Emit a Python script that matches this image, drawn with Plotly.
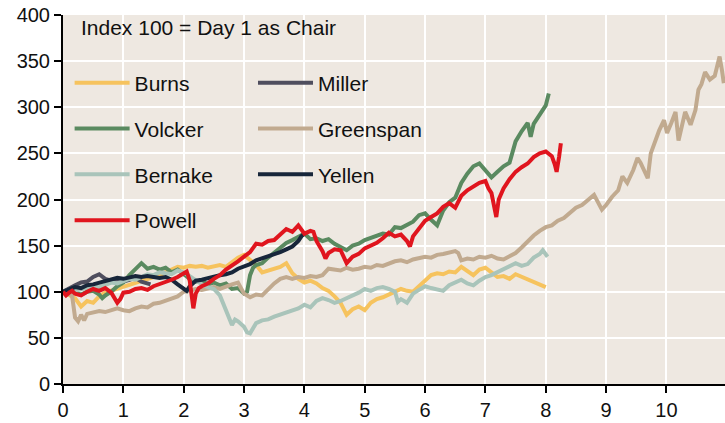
import plotly.graph_objects as go

# years since first day as chair, index level (100 = day 1)
burns_x = [0.0, 0.1, 0.2, 0.3, 0.4, 0.5, 0.6, 0.7, 0.8, 0.9, 1.0, 1.1, 1.2, 1.3, 1.4, 1.5, 1.6, 1.7, 1.8, 1.9,
           2.0, 2.1, 2.2, 2.3, 2.4, 2.5, 2.6, 2.7, 2.8, 2.9, 3.0, 3.1, 3.2, 3.3, 3.4, 3.5, 3.6, 3.7, 3.8, 3.9,
           4.0, 4.1, 4.2, 4.3, 4.4, 4.5, 4.6, 4.7, 4.8, 4.9, 5.0, 5.1, 5.2, 5.3, 5.4, 5.5, 5.6, 5.7, 5.8, 5.9,
           6.0, 6.1, 6.2, 6.3, 6.4, 6.5, 6.6, 6.7, 6.8, 6.9, 7.0, 7.1, 7.2, 7.3, 7.4, 7.5, 7.6, 7.7, 7.8, 7.9, 8.0]
burns_y = [100, 97, 93, 84, 90, 88, 95, 99, 101, 103, 105, 107, 109, 111, 113, 115, 118, 121, 124, 127,
           126, 128, 127, 128, 126, 128, 129, 127, 132, 137, 140, 135, 129, 121, 123, 125, 127, 131, 120, 114,
           110, 112, 109, 104, 101, 95, 88, 75, 81, 84, 80, 88, 92, 94, 97, 99, 103, 101, 100, 106,
           112, 118, 120, 119, 122, 121, 127, 123, 118, 124, 126, 121, 116, 117, 114, 119, 116, 113, 111, 108, 105]

miller_x = [0.0, 0.1, 0.2, 0.3, 0.4, 0.5, 0.6, 0.7, 0.8, 0.9, 1.0, 1.1, 1.2, 1.3, 1.4, 1.45]
miller_y = [100, 104, 107, 110, 111, 116, 119, 114, 112, 114, 111, 113, 115, 111, 109, 108]

volcker_x = [0.0, 0.1, 0.2, 0.3, 0.4, 0.5, 0.6, 0.65, 0.7, 0.8, 0.9, 1.0, 1.1, 1.2, 1.3, 1.4, 1.5, 1.6, 1.7, 1.8,
             1.9, 2.0, 2.1, 2.2, 2.3, 2.4, 2.5, 2.6, 2.7, 2.8, 2.9, 3.0, 3.05, 3.1, 3.15, 3.2, 3.3, 3.4, 3.5, 3.6,
             3.7, 3.8, 3.9, 4.0, 4.1, 4.2, 4.3, 4.4, 4.5, 4.6, 4.7, 4.8, 4.9, 5.0, 5.1, 5.2, 5.3, 5.4, 5.5, 5.6,
             5.7, 5.8, 5.9, 6.0, 6.1, 6.2, 6.3, 6.4, 6.5, 6.6, 6.7, 6.8, 6.9, 7.0, 7.1, 7.2, 7.3, 7.4, 7.5, 7.6,
             7.7, 7.75, 7.8, 7.9, 8.0, 8.05]
volcker_y = [100, 102, 99, 97, 100, 101, 97, 93, 96, 100, 106, 110, 118, 124, 131, 125, 127, 124, 126, 121,
             124, 119, 114, 111, 112, 108, 110, 107, 109, 103, 104, 98, 100, 118, 126, 129, 131, 137, 142, 148,
             153, 156, 160, 163, 157, 158, 155, 157, 152, 149, 145, 150, 152, 156, 158, 160, 163, 162, 170, 169,
             173, 176, 183, 185, 178, 172, 188, 197, 202, 218, 228, 236, 239, 232, 224, 230, 236, 240, 263, 274,
             283, 268, 282, 292, 302, 315]

greenspan_x = [0.0, 0.1, 0.15, 0.2, 0.25, 0.3, 0.35, 0.4, 0.5, 0.6, 0.7, 0.8, 0.9, 1.0, 1.1, 1.2, 1.3, 1.4, 1.5,
               1.6, 1.7, 1.8, 1.9, 2.0, 2.1, 2.2, 2.3, 2.4, 2.5, 2.6, 2.7, 2.8, 2.9, 3.0, 3.1, 3.2, 3.3, 3.4,
               3.5, 3.6, 3.7, 3.8, 3.9, 4.0, 4.1, 4.2, 4.3, 4.4, 4.5, 4.6, 4.7, 4.8, 4.9, 5.0, 5.1, 5.2, 5.3,
               5.4, 5.5, 5.6, 5.7, 5.8, 5.9, 6.0, 6.1, 6.2, 6.3, 6.4, 6.5, 6.55, 6.6, 6.7, 6.8, 6.9, 7.0, 7.1,
               7.2, 7.3, 7.4, 7.5, 7.6, 7.7, 7.8, 7.9, 8.0, 8.1, 8.2, 8.3, 8.4, 8.5, 8.6, 8.7, 8.8, 8.93, 9.0,
               9.1, 9.2, 9.27, 9.35, 9.45, 9.52, 9.57, 9.69, 9.74, 9.8, 9.88, 9.96, 10.01, 10.08, 10.15, 10.2,
               10.25, 10.31, 10.4, 10.48, 10.53, 10.58, 10.64, 10.72, 10.8, 10.84, 10.88, 10.92, 10.95]
greenspan_y = [100, 98, 96, 72, 68, 75, 69, 76, 77, 79, 78, 80, 82, 80, 79, 82, 84, 83, 87,
               88, 90, 92, 95, 100, 101, 103, 102, 104, 105, 103, 106, 108, 110, 98, 94, 97, 96, 103,
               109, 114, 116, 114, 116, 115, 117, 116, 118, 125, 124, 123, 126, 124, 125, 127, 126, 129, 128,
               131, 133, 134, 132, 135, 137, 138, 137, 140, 141, 143, 144, 142, 134, 136, 135, 138, 137, 139,
               136, 135, 139, 142, 148, 155, 161, 166, 170, 172, 177, 180, 186, 191, 194, 199, 205, 189, 194,
               203, 210, 225, 218, 232, 245, 240, 223, 250, 262, 275, 286, 272, 283, 295, 264,
               280, 295, 281, 297, 319, 325, 338, 330, 334, 345, 355, 340, 326]

bernake_x = [0.0, 0.1, 0.2, 0.3, 0.4, 0.5, 0.6, 0.7, 0.8, 0.9, 1.0, 1.1, 1.2, 1.3, 1.4, 1.5, 1.6, 1.7, 1.8, 1.9,
             2.0, 2.1, 2.2, 2.3, 2.4, 2.5, 2.6, 2.7, 2.8, 2.85, 2.9, 3.0, 3.05, 3.1, 3.2, 3.3, 3.4, 3.5, 3.6, 3.7,
             3.8, 3.9, 4.0, 4.1, 4.2, 4.3, 4.4, 4.5, 4.6, 4.7, 4.8, 4.9, 5.0, 5.1, 5.2, 5.3, 5.4, 5.5, 5.55, 5.6,
             5.7, 5.8, 5.9, 6.0, 6.1, 6.2, 6.3, 6.4, 6.5, 6.6, 6.7, 6.8, 6.9, 7.0, 7.1, 7.2, 7.3, 7.4, 7.5, 7.6,
             7.7, 7.8, 7.9, 7.95, 8.03]
bernake_y = [100, 102, 101, 103, 104, 106, 105, 108, 110, 109, 112, 114, 113, 116, 119, 118, 121, 120, 119, 123,
             121, 117, 112, 108, 105, 103, 96, 80, 64, 70, 68, 62, 56, 55, 66, 69, 70, 73, 75, 78,
             80, 82, 86, 83, 90, 93, 91, 88, 90, 93, 95, 99, 103, 101, 104, 105, 103, 100, 89, 92,
             88, 98, 102, 106, 104, 103, 101, 107, 110, 113, 109, 107, 112, 116, 118, 121, 124, 127, 131, 128,
             130, 137, 141, 145, 138]

yellen_x = [0.0, 0.1, 0.2, 0.3, 0.4, 0.5, 0.6, 0.7, 0.8, 0.9, 1.0, 1.1, 1.2, 1.3, 1.4, 1.5, 1.6, 1.7, 1.8, 1.9,
            2.0, 2.05, 2.1, 2.2, 2.3, 2.4, 2.5, 2.6, 2.7, 2.8, 2.9, 3.0, 3.1, 3.2, 3.3, 3.4, 3.5, 3.6, 3.7, 3.8,
            3.9, 3.95, 4.0]
yellen_y = [100, 103, 105, 104, 107, 108, 110, 112, 113, 115, 114, 116, 117, 116, 117, 116, 115, 116, 113, 108,
            103, 101, 106, 112, 113, 115, 116, 118, 119, 121, 125, 127, 130, 134, 136, 138, 140, 143, 146, 149,
            155, 160, 163]

powell_x = [0.0, 0.05, 0.1, 0.15, 0.2, 0.3, 0.4, 0.5, 0.6, 0.7, 0.8, 0.85, 0.9, 0.95, 1.0, 1.1, 1.2, 1.3, 1.4, 1.5,
            1.6, 1.7, 1.8, 1.9, 2.0, 2.05, 2.1, 2.13, 2.16, 2.2, 2.25, 2.3, 2.4, 2.5, 2.6, 2.7, 2.8, 2.9, 3.0, 3.1,
            3.2, 3.3, 3.4, 3.5, 3.6, 3.7, 3.8, 3.9, 4.0, 4.1, 4.15, 4.2, 4.3, 4.35, 4.4, 4.5, 4.6, 4.7, 4.8, 4.9,
            5.0, 5.1, 5.2, 5.3, 5.4, 5.5, 5.6, 5.7, 5.75, 5.8, 5.9, 6.0, 6.1, 6.2, 6.3, 6.4, 6.5, 6.6, 6.7, 6.8,
            6.9, 7.0, 7.05, 7.1, 7.15, 7.18, 7.22, 7.3, 7.4, 7.5, 7.6, 7.7, 7.8, 7.9, 8.0, 8.1, 8.15, 8.18, 8.22, 8.25]
powell_y = [100, 96, 99, 101, 98, 96, 100, 103, 101, 104, 99, 94, 88, 92, 99, 100, 103, 104, 102, 106,
            108, 110, 113, 116, 120, 122, 112, 95, 82, 98, 104, 106, 109, 114, 118, 124, 128, 133, 138, 143,
            152, 151, 155, 156, 162, 168, 165, 172, 163, 166, 165, 155, 144, 136, 142, 146, 145, 131, 138, 141,
            147, 150, 153, 158, 164, 160, 162, 155, 149, 160, 168, 177, 181, 185, 192, 196, 191, 204, 210, 214,
            218, 220, 212, 207, 190, 181, 200, 212, 222, 230, 235, 239, 246, 250, 252, 247, 238, 230, 246, 261]

x_ticks = [0, 1, 2, 3, 4, 5, 6, 7, 8, 9, 10]
y_ticks = [0, 50, 100, 150, 200, 250, 300, 350, 400]

# (name, x, y, colour, legend)
series = [
    ("Burns", burns_x, burns_y, "#F6C35E", "legend"),
    ("Miller", miller_x, miller_y, "#4F4E5E", "legend2"),
    ("Volcker", volcker_x, volcker_y, "#5A8A60", "legend"),
    ("Greenspan", greenspan_x, greenspan_y, "#C1AA8F", "legend2"),
    ("Bernake", bernake_x, bernake_y, "#A9C4BA", "legend"),
    ("Yellen", yellen_x, yellen_y, "#17263A", "legend2"),
    ("Powell", powell_x, powell_y, "#E0151E", "legend"),
]

fig = go.Figure()
for name, xs, ys, col, leg in series:
    fig.add_trace(go.Scatter(x=xs, y=ys, name=name, mode="lines", legend=leg, legendgroup=name,
                             line=dict(color=col, width=4)))

FONT = "Liberation Sans, Arial, sans-serif"
legend_style = dict(bgcolor="rgba(0,0,0,0)", font=dict(family=FONT, size=21, color="#111111"),
                    tracegroupgap=15.5, itemwidth=55, xanchor="left", yanchor="top")

fig.update_layout(
    width=725, height=423,
    margin=dict(l=63, r=0, t=15, b=39),
    paper_bgcolor="white", plot_bgcolor="#EEE8E1",
    font=dict(family=FONT, size=20, color="#111111"),
    legend=dict(x=0.01, y=0.871, **legend_style),
    legend2=dict(x=0.287, y=0.871, **legend_style),
    annotations=[dict(text="Index 100 = Day 1 as Chair", xref="paper", yref="paper", x=0.024, y=0.967,
                      xanchor="left", yanchor="middle", showarrow=False,
                      font=dict(family=FONT, size=21, color="#111111"))],
)
fig.update_xaxes(range=[0, 10.97], tickvals=x_ticks, showgrid=True, gridcolor="white", gridwidth=2,
                 showline=True, linecolor="black", linewidth=2, ticks="outside", tickcolor="black",
                 ticklen=7, tickwidth=2, zeroline=False)
fig.update_yaxes(range=[0, 400], tickvals=y_ticks, showgrid=True, gridcolor="white", gridwidth=2,
                 showline=True, linecolor="black", linewidth=2, ticks="outside", tickcolor="black",
                 ticklen=7, tickwidth=2, zeroline=False)

fig.write_html("out.html", config={"displayModeBar": False},
               post_script="document.body.style.margin='0';")
